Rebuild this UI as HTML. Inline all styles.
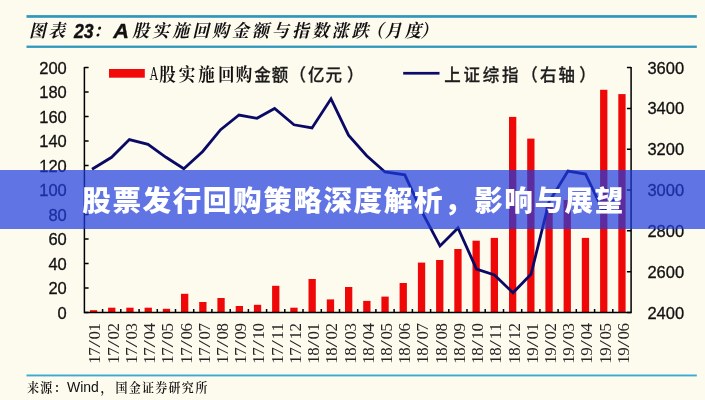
<!DOCTYPE html>
<html lang="zh-CN">
<head>
<meta charset="utf-8">
<title>股票发行回购策略深度解析，影响与展望</title>
<style>
html,body{margin:0;padding:0;background:#fdfaee;}
body{width:705px;height:400px;overflow:hidden;position:relative;font-family:"Liberation Sans","Noto Sans CJK SC",sans-serif;}
#chart{position:absolute;left:0;top:0;width:705px;height:400px;display:block;filter:blur(0.35px);}
.kai{font-family:"Liberation Serif","Noto Serif CJK SC",serif;font-style:italic;font-weight:700;}
.kais{font-family:"Liberation Serif","Noto Serif CJK SC",serif;font-weight:600;}
.song{font-family:"Liberation Serif","Noto Serif CJK SC",serif;font-weight:700;}
.hei{font-family:"Liberation Sans","Noto Sans CJK SC",sans-serif;font-weight:500;}
.ar{font-family:"Liberation Sans",sans-serif;}
.tm{font-family:"Liberation Serif",serif;}
#banner{position:absolute;left:0;top:170px;width:705px;height:58.8px;background:rgba(30,58,222,0.70);
 color:#fff;font-family:"Liberation Sans","Noto Sans CJK SC",sans-serif;font-weight:900;font-size:28.6px;letter-spacing:1.55px;line-height:58px;text-align:center;white-space:nowrap;}
#banner span{position:relative;top:1.6px;left:1.1px;}
</style>
</head>
<body>
<svg id="chart" width="705" height="400" viewBox="0 0 705 400">
<rect x="0" y="0" width="705" height="400" fill="#fdfaee"/>
<rect x="26.5" y="15.1" width="670.3" height="2.7" fill="#2f97bd"/>
<rect x="26.5" y="45.6" width="670.3" height="2.3" fill="#2f97bd"/>
<rect x="26.5" y="374.5" width="670.3" height="1.9" fill="#3cabd0"/>
<text class="kai" font-size="16.8" transform="translate(0.0,37.4) scale(1.000,1.060)" x="29.0 48.3" fill="#111">图表</text>
<text class="ar" font-size="17" transform="translate(74.0,37.8) scale(1.040,1.180)" fill="#111" stroke="#111" stroke-width="0.3" font-weight="700" font-style="italic">23</text>
<text class="kai" font-size="16.8" transform="translate(0.0,37.4) scale(1.000,1.060)" x="93.0" fill="#111">：</text>
<text class="ar" font-size="17" transform="translate(113.2,37.8) scale(1.280,1.180)" fill="#111" stroke="#111" stroke-width="0.3" font-weight="700" font-style="italic">A</text>
<text class="kai" font-size="16.8" transform="translate(0.0,37.4) scale(1.000,1.060)" x="132.3 152.2 172.2 192.2 212.1 232.1 252.0 272.0 291.9 311.9 331.8 351.8 366.5 384.8 404.5 420.5" fill="#111">股实施回购金额与指数涨跌（月度）</text>
<rect x="109" y="69" width="35.8" height="8.7" fill="#f20a0a"/>
<text class="tm" font-size="17" transform="translate(149.6,80.4) scale(0.720,1.120)" fill="#111">A</text>
<text class="song" font-size="16.5" transform="translate(0.0,80.6) scale(1.000,1.070)" x="159.3 178.8 198.3 217.9 235.8" fill="#111">股实施回购</text>
<text class="hei" font-size="16.5" transform="translate(0.0,80.6) scale(1.000,1.060)" x="254.3 271.8 289.5 308.0 325.5 347.0" fill="#1c1c1c" stroke="#1c1c1c" stroke-width="0.25">金额（亿元）</text>
<rect x="403.2" y="71.9" width="36.3" height="2.7" fill="#0b0b6a"/>
<text class="hei" font-size="16.5" transform="translate(0.0,80.6) scale(1.000,1.060)" x="444.2 463.5 482.8 502.0 521.3 540.0 558.5 579.3" fill="#1c1c1c" stroke="#1c1c1c" stroke-width="0.25">上证综指（右轴）</text>
<rect x="89.9" y="310.2" width="7.3" height="2.3" fill="#ef0808"/>
<rect x="108.1" y="307.7" width="7.3" height="4.8" fill="#ef0808"/>
<rect x="126.3" y="307.7" width="7.3" height="4.8" fill="#ef0808"/>
<rect x="144.6" y="307.7" width="7.3" height="4.8" fill="#ef0808"/>
<rect x="162.8" y="308.8" width="7.3" height="3.7" fill="#ef0808"/>
<rect x="181.0" y="293.8" width="7.3" height="18.7" fill="#ef0808"/>
<rect x="199.2" y="302.0" width="7.3" height="10.5" fill="#ef0808"/>
<rect x="217.4" y="298.0" width="7.3" height="14.5" fill="#ef0808"/>
<rect x="235.7" y="306.0" width="7.3" height="6.5" fill="#ef0808"/>
<rect x="253.9" y="304.8" width="7.3" height="7.7" fill="#ef0808"/>
<rect x="272.1" y="285.8" width="7.3" height="26.7" fill="#ef0808"/>
<rect x="290.3" y="307.7" width="7.3" height="4.8" fill="#ef0808"/>
<rect x="308.5" y="279.0" width="7.3" height="33.5" fill="#ef0808"/>
<rect x="326.8" y="299.4" width="7.3" height="13.1" fill="#ef0808"/>
<rect x="345.0" y="287.0" width="7.3" height="25.5" fill="#ef0808"/>
<rect x="363.2" y="300.9" width="7.3" height="11.6" fill="#ef0808"/>
<rect x="381.4" y="296.6" width="7.3" height="15.9" fill="#ef0808"/>
<rect x="399.6" y="283.0" width="7.3" height="29.5" fill="#ef0808"/>
<rect x="417.9" y="262.6" width="7.3" height="49.9" fill="#ef0808"/>
<rect x="436.1" y="260.0" width="7.3" height="52.5" fill="#ef0808"/>
<rect x="454.3" y="249.0" width="7.3" height="63.5" fill="#ef0808"/>
<rect x="472.5" y="240.7" width="7.3" height="71.8" fill="#ef0808"/>
<rect x="490.7" y="237.9" width="7.3" height="74.6" fill="#ef0808"/>
<rect x="509.0" y="116.9" width="7.3" height="195.6" fill="#ef0808"/>
<rect x="527.2" y="138.6" width="7.3" height="173.9" fill="#ef0808"/>
<rect x="545.4" y="207.0" width="7.3" height="105.5" fill="#ef0808"/>
<rect x="563.6" y="200.0" width="7.3" height="112.5" fill="#ef0808"/>
<rect x="581.8" y="237.9" width="7.3" height="74.6" fill="#ef0808"/>
<rect x="600.1" y="89.8" width="7.3" height="222.7" fill="#ef0808"/>
<rect x="618.3" y="94.1" width="7.3" height="218.4" fill="#ef0808"/>
<g stroke="#000" stroke-width="1.5" fill="none">
<path d="M84.4 67 V312.5 H631.1 V67"/>
<path d="M84.4 312.5 h4.2 M84.4 288.0 h4.2 M84.4 263.5 h4.2 M84.4 239.0 h4.2 M84.4 214.5 h4.2 M84.4 190.0 h4.2 M84.4 165.5 h4.2 M84.4 141.0 h4.2 M84.4 116.5 h4.2 M84.4 92.0 h4.2 M84.4 67.5 h4.2 M631.1 312.5 h-4.2 M631.1 271.7 h-4.2 M631.1 230.8 h-4.2 M631.1 190.0 h-4.2 M631.1 149.2 h-4.2 M631.1 108.4 h-4.2 M631.1 67.5 h-4.2 M102.6 312.5 v-3.5 M120.8 312.5 v-3.5 M139.1 312.5 v-3.5 M157.3 312.5 v-3.5 M175.5 312.5 v-3.5 M193.7 312.5 v-3.5 M211.9 312.5 v-3.5 M230.2 312.5 v-3.5 M248.4 312.5 v-3.5 M266.6 312.5 v-3.5 M284.8 312.5 v-3.5 M303.0 312.5 v-3.5 M321.3 312.5 v-3.5 M339.5 312.5 v-3.5 M357.7 312.5 v-3.5 M375.9 312.5 v-3.5 M394.1 312.5 v-3.5 M412.4 312.5 v-3.5 M430.6 312.5 v-3.5 M448.8 312.5 v-3.5 M467.0 312.5 v-3.5 M485.2 312.5 v-3.5 M503.5 312.5 v-3.5 M521.7 312.5 v-3.5 M539.9 312.5 v-3.5 M558.1 312.5 v-3.5 M576.3 312.5 v-3.5 M594.6 312.5 v-3.5 M612.8 312.5 v-3.5"/>
</g>
<polyline fill="none" stroke="#0a0a66" stroke-width="2.8" stroke-linejoin="miter" points="92.0,169.3 111.6,157.3 129.4,139.6 148.0,144.3 166.0,157.3 183.8,168.7 202.7,151.5 220.6,129.7 239.0,115.0 257.0,118.3 274.6,108.5 294.0,124.8 312.0,128.0 331.0,98.8 348.5,135.2 366.7,155.7 385.0,172.0 404.8,174.8 422.0,212.0 440.0,246.0 458.0,228.0 476.5,269.0 494.5,275.0 513.0,292.8 531.0,274.3 549.0,202.0 568.0,171.0 585.5,174.0 603.0,210.6 621.0,194.3"/>
<text class="ar" font-size="16.5" transform="translate(66.8,319.3)" fill="#111" stroke="#111" stroke-width="0.3" text-anchor="end">0</text>
<text class="ar" font-size="16.5" transform="translate(66.8,294.0)" fill="#111" stroke="#111" stroke-width="0.3" text-anchor="end">20</text>
<text class="ar" font-size="16.5" transform="translate(66.8,269.5)" fill="#111" stroke="#111" stroke-width="0.3" text-anchor="end">40</text>
<text class="ar" font-size="16.5" transform="translate(66.8,245.0)" fill="#111" stroke="#111" stroke-width="0.3" text-anchor="end">60</text>
<text class="ar" font-size="16.5" transform="translate(66.8,220.5)" fill="#111" stroke="#111" stroke-width="0.3" text-anchor="end">80</text>
<text class="ar" font-size="16.5" transform="translate(66.8,196.0)" fill="#111" stroke="#111" stroke-width="0.3" text-anchor="end">100</text>
<text class="ar" font-size="16.5" transform="translate(66.8,171.5)" fill="#111" stroke="#111" stroke-width="0.3" text-anchor="end">120</text>
<text class="ar" font-size="16.5" transform="translate(66.8,147.0)" fill="#111" stroke="#111" stroke-width="0.3" text-anchor="end">140</text>
<text class="ar" font-size="16.5" transform="translate(66.8,122.5)" fill="#111" stroke="#111" stroke-width="0.3" text-anchor="end">160</text>
<text class="ar" font-size="16.5" transform="translate(66.8,98.0)" fill="#111" stroke="#111" stroke-width="0.3" text-anchor="end">180</text>
<text class="ar" font-size="16.5" transform="translate(66.8,73.5)" fill="#111" stroke="#111" stroke-width="0.3" text-anchor="end">200</text>
<text class="ar" font-size="16.5" transform="translate(647.4,319.3)" fill="#111" stroke="#111" stroke-width="0.3">2400</text>
<text class="ar" font-size="16.5" transform="translate(647.4,277.7)" fill="#111" stroke="#111" stroke-width="0.3">2600</text>
<text class="ar" font-size="16.5" transform="translate(647.4,236.8)" fill="#111" stroke="#111" stroke-width="0.3">2800</text>
<text class="ar" font-size="16.5" transform="translate(647.4,196.0)" fill="#111" stroke="#111" stroke-width="0.3">3000</text>
<text class="ar" font-size="16.5" transform="translate(647.4,155.2)" fill="#111" stroke="#111" stroke-width="0.3">3200</text>
<text class="ar" font-size="16.5" transform="translate(647.4,114.4)" fill="#111" stroke="#111" stroke-width="0.3">3400</text>
<text class="ar" font-size="16.5" transform="translate(647.4,73.5)" fill="#111" stroke="#111" stroke-width="0.3">3600</text>
<g class="tm" font-size="17" fill="#262626" transform="translate(100.4,363.7) rotate(-90)"><text x="0 8">17</text><text transform="translate(16.2,0) scale(1.6,0.97)">/</text><text x="24.2 32.2">01</text></g>
<g class="tm" font-size="17" fill="#262626" transform="translate(118.6,363.7) rotate(-90)"><text x="0 8">17</text><text transform="translate(16.2,0) scale(1.6,0.97)">/</text><text x="24.2 32.2">02</text></g>
<g class="tm" font-size="17" fill="#262626" transform="translate(136.8,363.7) rotate(-90)"><text x="0 8">17</text><text transform="translate(16.2,0) scale(1.6,0.97)">/</text><text x="24.2 32.2">03</text></g>
<g class="tm" font-size="17" fill="#262626" transform="translate(155.1,363.7) rotate(-90)"><text x="0 8">17</text><text transform="translate(16.2,0) scale(1.6,0.97)">/</text><text x="24.2 32.2">04</text></g>
<g class="tm" font-size="17" fill="#262626" transform="translate(173.3,363.7) rotate(-90)"><text x="0 8">17</text><text transform="translate(16.2,0) scale(1.6,0.97)">/</text><text x="24.2 32.2">05</text></g>
<g class="tm" font-size="17" fill="#262626" transform="translate(191.5,363.7) rotate(-90)"><text x="0 8">17</text><text transform="translate(16.2,0) scale(1.6,0.97)">/</text><text x="24.2 32.2">06</text></g>
<g class="tm" font-size="17" fill="#262626" transform="translate(209.7,363.7) rotate(-90)"><text x="0 8">17</text><text transform="translate(16.2,0) scale(1.6,0.97)">/</text><text x="24.2 32.2">07</text></g>
<g class="tm" font-size="17" fill="#262626" transform="translate(227.9,363.7) rotate(-90)"><text x="0 8">17</text><text transform="translate(16.2,0) scale(1.6,0.97)">/</text><text x="24.2 32.2">08</text></g>
<g class="tm" font-size="17" fill="#262626" transform="translate(246.2,363.7) rotate(-90)"><text x="0 8">17</text><text transform="translate(16.2,0) scale(1.6,0.97)">/</text><text x="24.2 32.2">09</text></g>
<g class="tm" font-size="17" fill="#262626" transform="translate(264.4,363.7) rotate(-90)"><text x="0 8">17</text><text transform="translate(16.2,0) scale(1.6,0.97)">/</text><text x="24.2 32.2">10</text></g>
<g class="tm" font-size="17" fill="#262626" transform="translate(282.6,363.7) rotate(-90)"><text x="0 8">17</text><text transform="translate(16.2,0) scale(1.6,0.97)">/</text><text x="24.2 32.2">11</text></g>
<g class="tm" font-size="17" fill="#262626" transform="translate(300.8,363.7) rotate(-90)"><text x="0 8">17</text><text transform="translate(16.2,0) scale(1.6,0.97)">/</text><text x="24.2 32.2">12</text></g>
<g class="tm" font-size="17" fill="#262626" transform="translate(319.0,363.7) rotate(-90)"><text x="0 8">18</text><text transform="translate(16.2,0) scale(1.6,0.97)">/</text><text x="24.2 32.2">01</text></g>
<g class="tm" font-size="17" fill="#262626" transform="translate(337.3,363.7) rotate(-90)"><text x="0 8">18</text><text transform="translate(16.2,0) scale(1.6,0.97)">/</text><text x="24.2 32.2">02</text></g>
<g class="tm" font-size="17" fill="#262626" transform="translate(355.5,363.7) rotate(-90)"><text x="0 8">18</text><text transform="translate(16.2,0) scale(1.6,0.97)">/</text><text x="24.2 32.2">03</text></g>
<g class="tm" font-size="17" fill="#262626" transform="translate(373.7,363.7) rotate(-90)"><text x="0 8">18</text><text transform="translate(16.2,0) scale(1.6,0.97)">/</text><text x="24.2 32.2">04</text></g>
<g class="tm" font-size="17" fill="#262626" transform="translate(391.9,363.7) rotate(-90)"><text x="0 8">18</text><text transform="translate(16.2,0) scale(1.6,0.97)">/</text><text x="24.2 32.2">05</text></g>
<g class="tm" font-size="17" fill="#262626" transform="translate(410.1,363.7) rotate(-90)"><text x="0 8">18</text><text transform="translate(16.2,0) scale(1.6,0.97)">/</text><text x="24.2 32.2">06</text></g>
<g class="tm" font-size="17" fill="#262626" transform="translate(428.4,363.7) rotate(-90)"><text x="0 8">18</text><text transform="translate(16.2,0) scale(1.6,0.97)">/</text><text x="24.2 32.2">07</text></g>
<g class="tm" font-size="17" fill="#262626" transform="translate(446.6,363.7) rotate(-90)"><text x="0 8">18</text><text transform="translate(16.2,0) scale(1.6,0.97)">/</text><text x="24.2 32.2">08</text></g>
<g class="tm" font-size="17" fill="#262626" transform="translate(464.8,363.7) rotate(-90)"><text x="0 8">18</text><text transform="translate(16.2,0) scale(1.6,0.97)">/</text><text x="24.2 32.2">09</text></g>
<g class="tm" font-size="17" fill="#262626" transform="translate(483.0,363.7) rotate(-90)"><text x="0 8">18</text><text transform="translate(16.2,0) scale(1.6,0.97)">/</text><text x="24.2 32.2">10</text></g>
<g class="tm" font-size="17" fill="#262626" transform="translate(501.2,363.7) rotate(-90)"><text x="0 8">18</text><text transform="translate(16.2,0) scale(1.6,0.97)">/</text><text x="24.2 32.2">11</text></g>
<g class="tm" font-size="17" fill="#262626" transform="translate(519.5,363.7) rotate(-90)"><text x="0 8">18</text><text transform="translate(16.2,0) scale(1.6,0.97)">/</text><text x="24.2 32.2">12</text></g>
<g class="tm" font-size="17" fill="#262626" transform="translate(537.7,363.7) rotate(-90)"><text x="0 8">19</text><text transform="translate(16.2,0) scale(1.6,0.97)">/</text><text x="24.2 32.2">01</text></g>
<g class="tm" font-size="17" fill="#262626" transform="translate(555.9,363.7) rotate(-90)"><text x="0 8">19</text><text transform="translate(16.2,0) scale(1.6,0.97)">/</text><text x="24.2 32.2">02</text></g>
<g class="tm" font-size="17" fill="#262626" transform="translate(574.1,363.7) rotate(-90)"><text x="0 8">19</text><text transform="translate(16.2,0) scale(1.6,0.97)">/</text><text x="24.2 32.2">03</text></g>
<g class="tm" font-size="17" fill="#262626" transform="translate(592.3,363.7) rotate(-90)"><text x="0 8">19</text><text transform="translate(16.2,0) scale(1.6,0.97)">/</text><text x="24.2 32.2">04</text></g>
<g class="tm" font-size="17" fill="#262626" transform="translate(610.6,363.7) rotate(-90)"><text x="0 8">19</text><text transform="translate(16.2,0) scale(1.6,0.97)">/</text><text x="24.2 32.2">05</text></g>
<g class="tm" font-size="17" fill="#262626" transform="translate(628.8,363.7) rotate(-90)"><text x="0 8">19</text><text transform="translate(16.2,0) scale(1.6,0.97)">/</text><text x="24.2 32.2">06</text></g>
<text class="kais" font-size="12" transform="translate(0.0,392.4) scale(1.000,1.080)" x="27.0 40.3 54.0" fill="#111">来源：</text>
<text class="ar" font-size="14" transform="translate(67.0,392.3)" fill="#111">Wind</text>
<text class="kais" font-size="12" transform="translate(0.0,392.4) scale(1.000,1.080)" x="100.5 115.5 128.8 142.0 155.2 168.5 181.8 195.6" fill="#111">，国金证券研究所</text>
</svg>
<div id="banner"><span>股票发行回购策略深度解析，影响与展望</span></div>
</body>
</html>
